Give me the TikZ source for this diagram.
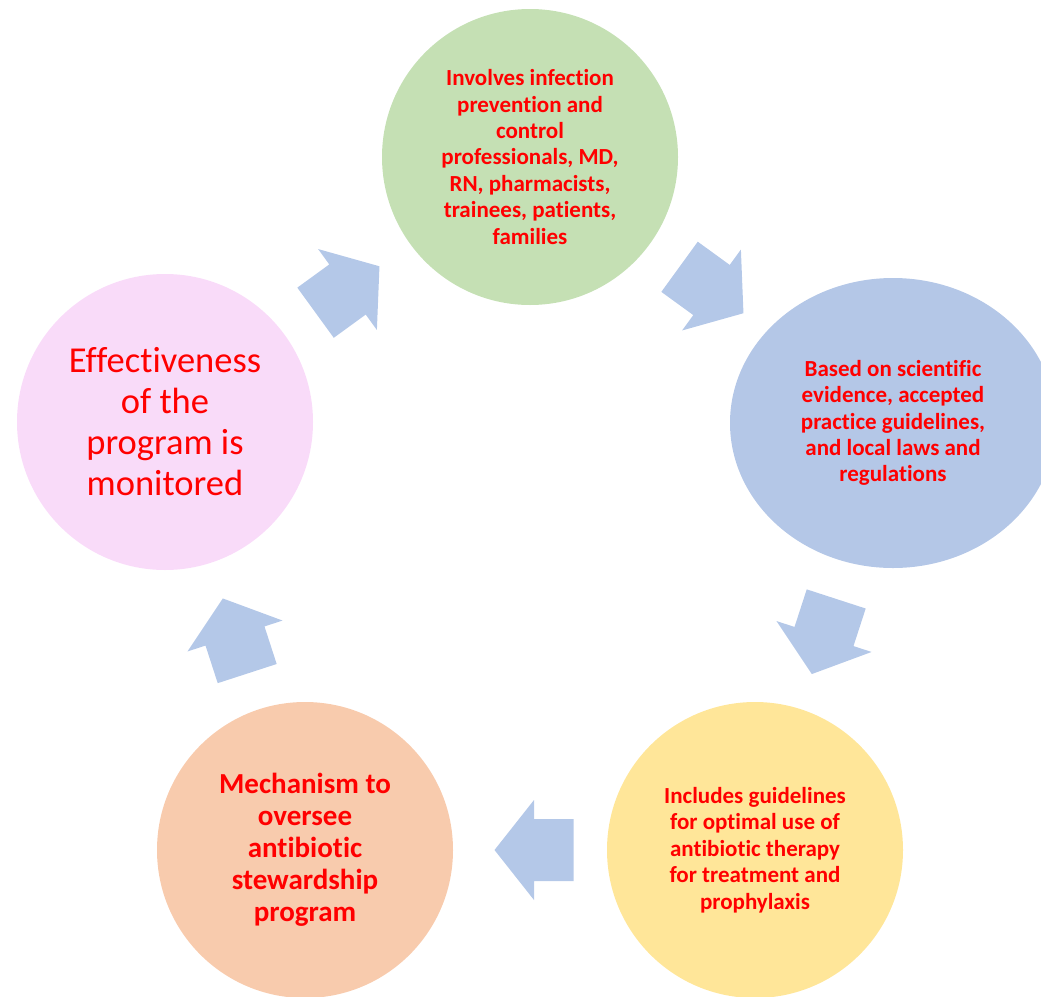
\documentclass[tikz,border=0pt]{standalone}
\usepackage{fontspec}
\setmainfont{Carlito}[Ligatures=NoCommon]
\usetikzlibrary{calc,shapes.geometric}

\definecolor{leafgreen}{HTML}{C5E0B4}
\definecolor{paleblue}{HTML}{B4C7E7}
\definecolor{butter}{HTML}{FFE699}
\definecolor{peach}{HTML}{F8CBAD}
\definecolor{blush}{HTML}{F9DBF9}
\definecolor{flowblue}{HTML}{B4C8E8}

\tikzset{
  stage/.style={circle, minimum size=296pt, inner sep=0pt, align=center, text=red},
  smalltext/.style={font=\fontsize{23}{26.4}\selectfont\bfseries},
  midtext/.style={font=\fontsize{29}{32}\selectfont\bfseries},
  bigtext/.style={font=\fontsize{36.5}{41}\selectfont},
  % short, wide block arrow pointing along +x, centred on the origin
  blockarrow/.pic={
    \fill[flowblue] (-39.5,-31) -- (0,-31) -- (0,-50) -- (39.5,0)
      -- (0,50) -- (0,31) -- (-39.5,31) -- cycle;
  }
}

\begin{document}
\begin{tikzpicture}[x=1pt,y=-1pt]
\useasboundingbox (0,0) rectangle (1041,996);
\clip (0,0) rectangle (1041,996);

% the five stages of the cycle
\node[stage, fill=leafgreen, smalltext] (involve) at (530,157)
  {Involves infection\\prevention and\\control\\professionals, MD,\\RN, pharmacists,\\trainees, patients,\\families};
\node[ellipse, minimum width=326pt, minimum height=290pt, inner sep=0pt,
      align=center, text=red, fill=paleblue, smalltext] (evidence) at (893,423)
  {Based on scientific\\evidence, accepted\\practice guidelines,\\and local laws and\\regulations};
\node[stage, fill=butter, smalltext] (guide) at (755,850)
  {Includes guidelines\\for optimal use of\\antibiotic therapy\\for treatment and\\prophylaxis};
\node[stage, fill=peach, midtext] (oversee) at (305,850)
  {Mechanism to\\oversee\\antibiotic\\stewardship\\program};
\node[stage, fill=blush, bigtext] (monitor) at (165,422)
  {Effectiveness\\of the\\program is\\monitored};

% block arrows between consecutive stages
\pic[rotate=-36]  at ($(involve)!0.5!(evidence)$) {blockarrow};
\pic[rotate=-108] at ($(evidence)!0.5!(guide)$) {blockarrow};
\pic[rotate=180]  at ($(guide)!0.5!(oversee) + (4,0)$) {blockarrow};
\pic[rotate=108]  at ($(oversee)!0.5!(monitor)$) {blockarrow};
\pic[rotate=36]   at ($(monitor)!0.5!(involve)$) {blockarrow};
\end{tikzpicture}
\end{document}
